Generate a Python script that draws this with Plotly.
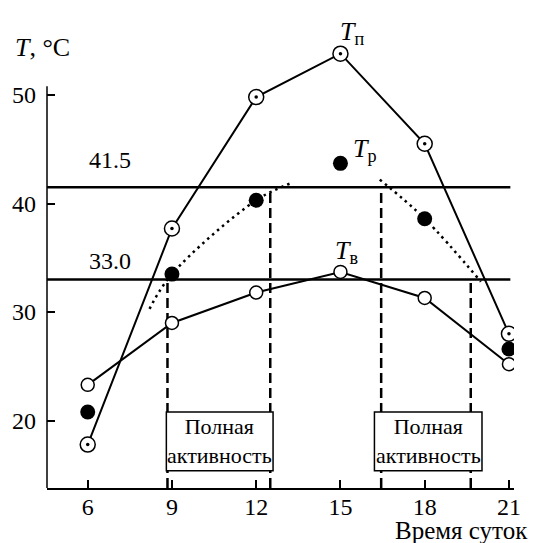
import plotly.graph_objects as go

# ---- data ----
hours = [6, 9, 12, 15, 18, 21]
T_p_surface = [17.8, 37.7, 49.8, 53.8, 45.5, 28.0]   # T_п
T_air = [23.3, 29.0, 31.8, 33.7, 31.3, 25.2]          # T_в
T_body = [20.8, 33.5, 40.3, 43.7, 38.6, 26.6]         # T_р

# dotted trend curves of T_р
trend1_x = [8.2, 9.0, 12.0, 13.27]
trend1_y = [30.3, 33.5, 40.3, 41.9]
trend2_x = [16.4, 18.0, 20.0]
trend2_y = [42.2, 38.6, 32.8]

levels = [41.5, 33.0]
level_labels = ["41.5", "33.0"]
# activity windows: (start, end), with the level each dashed line rises to
windows = [(8.84, 12.5), (16.45, 19.64)]
window_levels = [(33.0, 41.5), (41.5, 33.0)]

x_ticks = [6, 9, 12, 15, 18, 21]
y_ticks = [20, 30, 40, 50]

FONT = "Liberation Serif"
X_RANGE = [4.55, 21.18]
Y_RANGE = [13.8, 56.9]
Y_AXIS_TOP = 50.8
LINE_END = 21.05

fig = go.Figure()

# horizontal threshold lines
for lv in levels:
    fig.add_trace(go.Scatter(x=[X_RANGE[0], LINE_END], y=[lv, lv], mode="lines",
                             line=dict(color="black", width=2.5), hoverinfo="skip"))

# dashed vertical lines
for (a, b), (la, lb) in zip(windows, window_levels):
    for xv, lv in ((a, la), (b, lb)):
        fig.add_trace(go.Scatter(x=[xv, xv], y=[Y_RANGE[0], lv], mode="lines",
                                 line=dict(color="black", width=2.5, dash="10px,5px"),
                                 hoverinfo="skip"))

# dotted trend curves
for tx, ty in ((trend1_x, trend1_y), (trend2_x, trend2_y)):
    fig.add_trace(go.Scatter(x=tx, y=ty, mode="lines",
                             line=dict(color="black", width=2.5, dash="2.5px,4px", shape="spline"),
                             hoverinfo="skip"))

# T_в
fig.add_trace(go.Scatter(x=hours, y=T_air, mode="lines+markers",
                         line=dict(color="black", width=2),
                         marker=dict(symbol="circle", size=13, color="white",
                                     line=dict(color="black", width=1.5))))
# T_п
fig.add_trace(go.Scatter(x=hours, y=T_p_surface, mode="lines+markers",
                         line=dict(color="black", width=2),
                         marker=dict(symbol="circle", size=15, color="white",
                                     line=dict(color="black", width=1.5))))
fig.add_trace(go.Scatter(x=hours, y=T_p_surface, mode="markers",
                         marker=dict(symbol="circle", size=3.5, color="black")))
# T_р
fig.add_trace(go.Scatter(x=hours, y=T_body, mode="markers",
                         marker=dict(symbol="circle", size=15, color="black")))

# boxes
box_x = [(8.80, 12.60), (16.21, 20.04)]
box_y = (15.4, 20.8)
for x0, x1 in box_x:
    fig.add_shape(type="rect", x0=x0, x1=x1, y0=box_y[0], y1=box_y[1],
                  xref="x", yref="y", fillcolor="white",
                  line=dict(color="black", width=1.5), layer="above")
    fig.add_annotation(x=(x0 + x1) / 2, y=(box_y[0] + box_y[1]) / 2, xref="x", yref="y",
                       text="Полная<br>активность", showarrow=False,
                       font=dict(family=FONT, size=22, color="black"))

# y axis line (only up to just above 50)
fig.add_shape(type="line", xref="paper", yref="y", x0=0, x1=0, y0=Y_RANGE[0], y1=Y_AXIS_TOP,
              line=dict(color="black", width=1.5))

ann_font = dict(family=FONT, size=24, color="black")
for lv, lab, yy in zip(levels, level_labels, [44.0, 34.7]):
    fig.add_annotation(x=6.8, y=yy, xref="x", yref="y", text=lab, showarrow=False, font=ann_font)

lab_font = dict(family=FONT, size=26, color="black")
fig.add_annotation(x=14.9, y=55.7, xref="x", yref="y", xanchor="left", yanchor="middle",
                   text="<i>T</i><sub>п</sub>", showarrow=False, font=lab_font)
fig.add_annotation(x=15.38, y=44.9, xref="x", yref="y", xanchor="left", yanchor="middle",
                   text="<i>T</i><sub>р</sub>", showarrow=False, font=lab_font)
fig.add_annotation(x=14.75, y=35.5, xref="x", yref="y", xanchor="left", yanchor="middle",
                   text="<i>T</i><sub>в</sub>", showarrow=False, font=lab_font)

fig.add_annotation(x=-0.0725, y=0.942, xref="paper", yref="paper", xanchor="left",
                   yanchor="middle", text="<i>T</i>, °C", showarrow=False, font=lab_font)
fig.add_annotation(x=1.034, y=-0.09, xref="paper", yref="paper", xanchor="right",
                   yanchor="middle", text="Время суток", showarrow=False,
                   font=dict(family=FONT, size=25, color="black"))

fig.update_layout(
    width=533, height=543,
    margin=dict(l=46, r=18, t=20, b=55),
    paper_bgcolor="white", plot_bgcolor="white",
    showlegend=False,
    font=dict(family=FONT, size=24, color="black"),
    xaxis=dict(range=X_RANGE, tickvals=x_ticks, ticks="inside", ticklen=8, tickwidth=1.5,
               tickcolor="black", showline=True, linecolor="black", linewidth=1.5,
               showgrid=False, zeroline=False, fixedrange=True, ticklabelstandoff=-4,
               tickfont=dict(family=FONT, size=24, color="black")),
    yaxis=dict(range=Y_RANGE, tickvals=y_ticks, ticks="inside", ticklen=8, tickwidth=1.5,
               tickcolor="black", showline=False, showgrid=False, zeroline=False,
               fixedrange=True, ticklabelstandoff=10,
               tickfont=dict(family=FONT, size=24, color="black")),
)

fig.write_html("out.html", config={"displayModeBar": False},
               post_script="document.body.style.margin='0px';")
